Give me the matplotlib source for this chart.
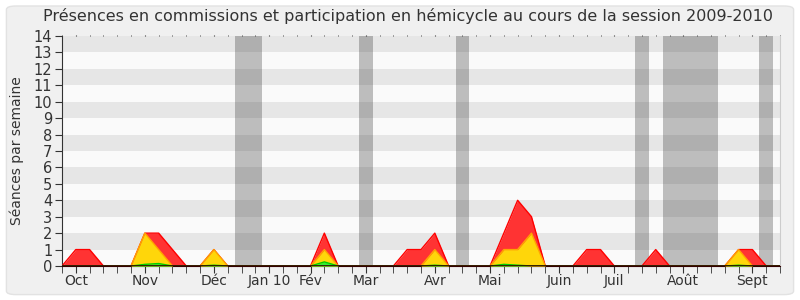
import matplotlib
matplotlib.use("Agg")
import matplotlib.pyplot as plt
from matplotlib.patches import FancyBboxPatch
import numpy as np

# ---- data ----
n_weeks = 53
weeks = list(range(n_weeks))
red_idx = {1: 1, 2: 1, 6: 2, 7: 2, 8: 1, 11: 1, 19: 2, 25: 1, 26: 1, 27: 2,
           32: 2, 33: 4, 34: 3, 38: 1, 39: 1, 43: 1, 49: 1, 50: 1}
yellow_idx = {6: 2, 7: 1, 11: 1, 19: 1, 27: 1, 32: 1, 33: 1, 34: 2, 49: 1}
green_idx = {6: 0.1, 7: 0.15, 11: 0.05, 19: 0.25, 27: 0.05, 32: 0.1, 33: 0.05, 49: 0.05}
red_vals = [red_idx.get(i, 0) for i in weeks]
yellow_vals = [yellow_idx.get(i, 0) for i in weeks]
green_vals = [green_idx.get(i, 0) for i in weeks]

month_labels = ["Oct", "Nov", "Déc", "Jan 10", "Fév", "Mar", "Avr", "Mai",
                "Juin", "Juil", "Août", "Sept"]
month_pos = [1, 6, 11, 15, 18, 22, 27, 31, 36, 40, 45, 50]

vac_start = [12.5, 21.5, 28.5, 41.5, 43.5, 50.5]
vac_end = [14.5, 22.5, 29.5, 42.5, 47.5, 51.5]

title = "Présences en commissions et participation en hémicycle au cours de la session 2009-2010"
ylabel = "Séances par semaine"
ymax = 14

# ---- figure ----
fig = plt.figure(figsize=(8, 3), dpi=100)
fig.patch.set_facecolor("white")
bg = FancyBboxPatch((0.008, 0.018), 0.984, 0.962, boxstyle="round,pad=0,rounding_size=0.012",
                    transform=fig.transFigure, facecolor="#f0f0f0", edgecolor="#e2e2e2",
                    linewidth=1.0, zorder=-10)
fig.patches.append(bg)

ax = fig.add_axes([62 / 800, 34 / 300, (780 - 62) / 800, (266 - 36) / 300])
ax.set_facecolor("#fafafa")
ax.set_xlim(0, n_weeks - 1)
ax.set_ylim(0, ymax)

# horizontal stripes
for k in range(ymax):
    if k % 2 == 1:
        ax.axhspan(k, k + 1, color="#e6e6e6", lw=0, zorder=0)

# vacation bands
for s, e in zip(vac_start, vac_end):
    ax.axvspan(s, e, color="#323232", alpha=0.3, lw=0, zorder=1)

x = np.array(weeks)
ax.fill_between(x, 0, red_vals, color="#ff3333", lw=0, zorder=2)
ax.plot(x, red_vals, color="#ff0000", lw=1, zorder=3)
ax.fill_between(x, 0, yellow_vals, color="#ffd60a", lw=0, zorder=4)
ax.plot(x, yellow_vals, color="#ffa500", lw=1, zorder=5)
ax.fill_between(x, 0, green_vals, color="#33ee33", lw=0, zorder=6)
ax.plot(x, green_vals, color="#00cc00", lw=1, zorder=7)
ax.axhline(0, color="#330000", lw=1.2, zorder=8)

# axes styling
ax.spines["top"].set_visible(False)
ax.spines["right"].set_color("#cccccc")
ax.spines["left"].set_color("#333333")
ax.spines["bottom"].set_color("#330000")

ax.set_yticks(range(ymax + 1))
ax.set_yticklabels([str(v) for v in range(ymax + 1)], fontsize=10.5, color="#333333")
ax.tick_params(axis="y", length=5, color="#333333", pad=2)

ax.set_xticks(weeks, minor=True)
ax.set_xticks(month_pos)
ax.set_xticklabels(month_labels, fontsize=10, color="#333333")
ax.tick_params(axis="x", which="both", length=5, color="#333333", pad=1,
               top=True, labeltop=False)
for t in ax.xaxis.get_major_ticks() + ax.xaxis.get_minor_ticks():
    t.tick2line.set_markersize(1)
    t.tick2line.set_color("#333333")

ax.set_ylabel(ylabel, fontsize=10, color="#333333", labelpad=7)
fig.text(0.51, 0.945, title, ha="center", va="center", fontsize=11.5, color="#333333")

fig.savefig("out.png", dpi=100, facecolor=fig.get_facecolor())
